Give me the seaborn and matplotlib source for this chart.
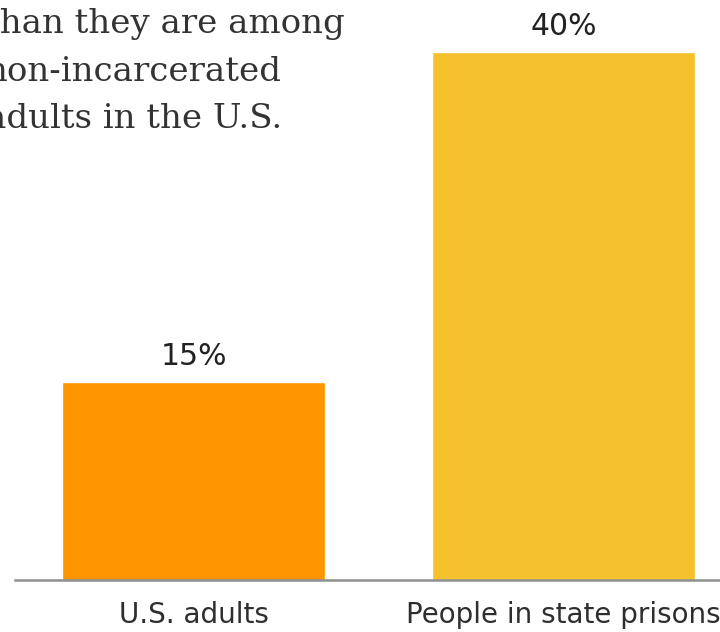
import matplotlib
matplotlib.use("Agg")
import matplotlib.pyplot as plt
import seaborn as sns
import pandas as pd

categories = ["U.S. adults", "People in state prisons"]
values = [15, 40]
value_labels = ["15%", "40%"]
bar_colors = ["#FF9600", "#F5C12C"]
title_lines = ["than they are among", "non-incarcerated", "adults in the U.S."]

sns.set_theme(style="white")
plt.rcParams['font.family'] = ['DejaVu Sans']

W, H = 720, 632
fig = plt.figure(figsize=(W / 100, H / 100), dpi=100)
fig.patch.set_facecolor("white")

base_px = 580
ppu = 13.2
ax = fig.add_axes([15 / W, (H - base_px) / H, (W - 15) / W, base_px / H])

df = pd.DataFrame({"cat": categories, "val": values})
sns.barplot(data=df, x="cat", y="val", hue="cat", palette=bar_colors,
            width=0.711, legend=False, ax=ax, saturation=1)

ax.set_xlim((15 - 193.5) / 370, (W - 193.5) / 370)
ax.set_ylim(0, base_px / ppu)

for i, (v, lab) in enumerate(zip(values, value_labels)):
    ax.annotate(lab, (i, v), xytext=(0, 8), textcoords="offset points",
                ha="center", va="bottom", fontsize=21.5, color="#222222",
                family="DejaVu Sans")

for s in ["top", "left", "right"]:
    ax.spines[s].set_visible(False)
ax.spines["bottom"].set_color("#8f8f8f")
ax.spines["bottom"].set_linewidth(1.8)
ax.set_yticks([])
ax.set_xlabel("")
ax.set_ylabel("")
ax.tick_params(axis="x", length=0, pad=15, labelsize=20, labelcolor="#2e2e2e")
ax.set_facecolor("white")

baselines = [33, 81, 128]
for line, b in zip(title_lines, baselines):
    fig.text(-14 / W, 1 - b / H, line, ha="left", va="baseline",
             fontsize=24.5, color="#333333", family="DejaVu Serif")

fig.savefig("out.png", dpi=100)
